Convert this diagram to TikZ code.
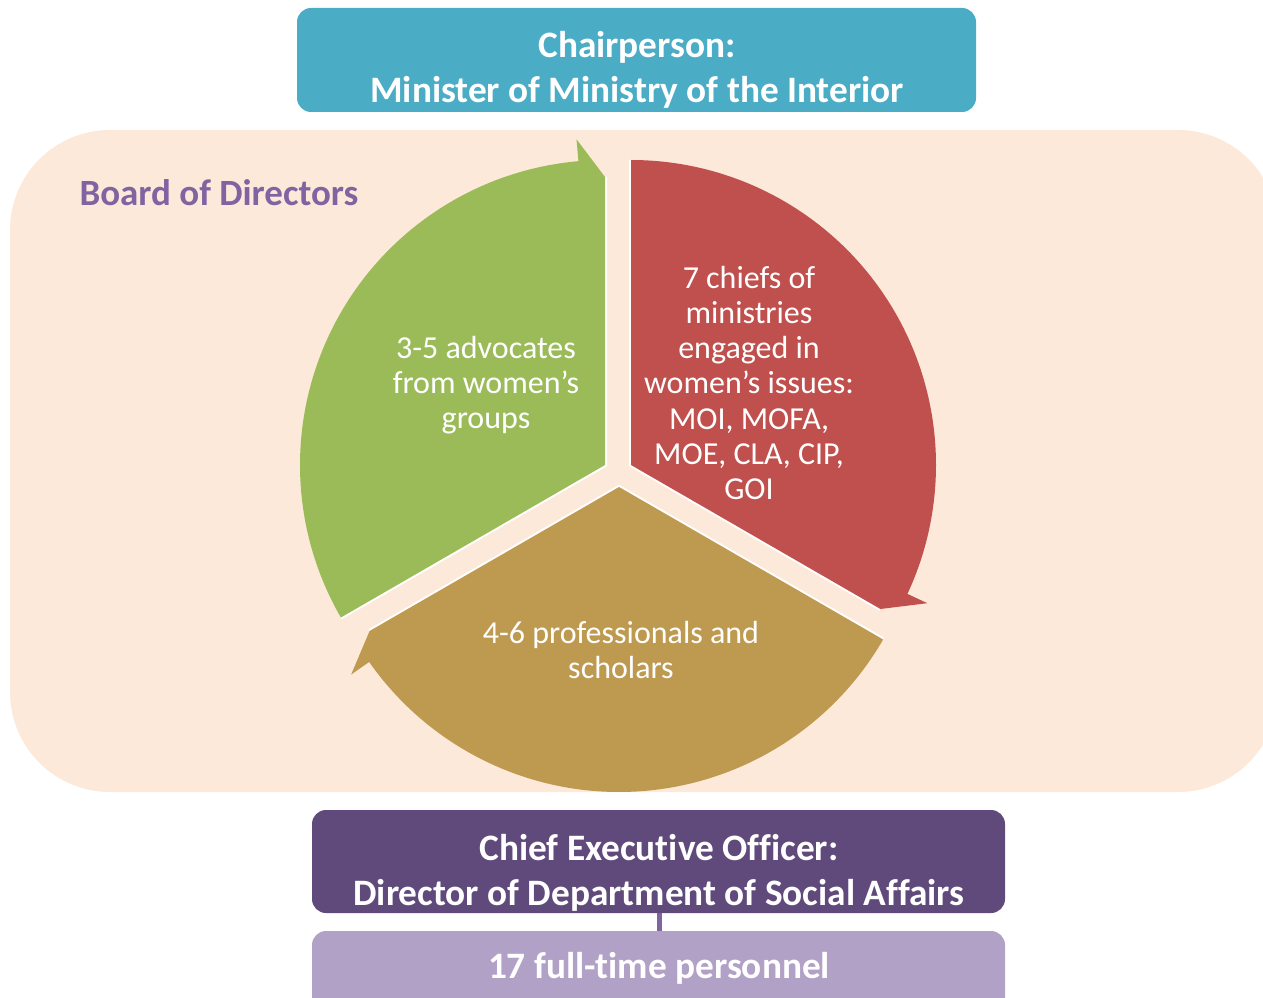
\documentclass[tikz,border=0pt]{standalone}
\usepackage{fontspec}
\setmainfont{Carlito}[Ligatures=NoCommon]
\usetikzlibrary{calc}
\definecolor{peach}{HTML}{FDE9D9}
\definecolor{teal}{HTML}{4BACC6}
\definecolor{segG}{HTML}{9BBB59}
\definecolor{segR}{HTML}{C0504D}
\definecolor{segY}{HTML}{BE9A50}
\definecolor{ceoC}{HTML}{604A7B}
\definecolor{persC}{HTML}{B2A1C7}
\definecolor{boardC}{HTML}{8064A2}
\tikzset{
  boxstyle/.style={rounded corners=14pt, inner sep=0pt},
  boldtext/.style={text=white, font=\fontsize{37.3}{45}\selectfont\bfseries, align=center},
  segtext/.style={text=white, font=\fontsize{32}{35.2}\selectfont, align=center},
  edgeline/.style={draw=white, line width=4pt},
}
\begin{document}
\begin{tikzpicture}[x=1pt,y=1pt]
\useasboundingbox (0,0) rectangle (1263,997);
\clip (0,0) rectangle (1263,997);
% board background
\fill[peach, rounded corners=100pt] (10,867) rectangle (1278,205);
\node[anchor=west, text=boardC, font=\fontsize{37}{44}\selectfont\bfseries] (board) at (76,804) {Board of Directors};
% chairperson
\node[boxstyle, fill=teal, minimum width=679pt, minimum height=104pt] (chair) at (636.5,937) {};
\node[boldtext] (chairtxt) at (637,927) {Chairperson:\\Minister of Ministry of the Interior};
% segment centres
\coordinate (G) at (605,532);
\coordinate (R) at (631,532);
\coordinate (Y) at (619,510);
% green
\draw[edgeline] ($(G)+(90:288pt)$) -- (G) -- ($(G)+(210:305pt)$);
\fill[segG] (G) -- ($(G)+(210:305pt)$) arc[start angle=210, end angle=95, radius=305pt]
  -- ($(G)+(95:327pt)$) -- ($(G)+(90:288pt)$) -- cycle;
% red
\draw[edgeline] ($(R)+(90:305pt)$) -- (R) -- ($(R)+(-30:288pt)$);
\fill[segR] (R) -- ($(R)+(90:305pt)$) arc[start angle=90, end angle=-25, radius=305pt]
  -- ($(R)+(-25:327pt)$) -- ($(R)+(-30:288pt)$) -- cycle;
% gold
\draw[edgeline] ($(Y)+(-30:305pt)$) -- (Y) -- ($(Y)+(-150:288pt)$);
\fill[segY] (Y) -- ($(Y)+(-30:305pt)$) arc[start angle=-30, end angle=-145, radius=305pt]
  -- ($(Y)+(-145:327pt)$) -- ($(Y)+(-150:288pt)$) -- cycle;
% segment texts
\node[segtext] (gtxt) at (486,612) {3-5 advocates\\from women’s\\groups};
\node[segtext] (rtxt) at (749,614) {7 chiefs of\\ministries\\engaged in\\women’s issues:\\MOI, MOFA,\\MOE, CLA, CIP,\\GOI};
\node[segtext] (ytxt) at (621,347) {4-6 professionals and\\scholars};
% CEO
\node[boxstyle, fill=ceoC, minimum width=693pt, minimum height=103pt] (ceo) at (658.5,135.5) {};
\node[boldtext] (ceotxt) at (659,124) {Chief Executive Officer:\\Director of Department of Social Affairs};
% personnel
\node[boxstyle, fill=persC, minimum width=693pt, minimum height=100pt] (pers) at (658.5,16) {};
\node[boldtext] (perstxt) at (659,29) {17 full-time personnel};
\draw[boardC, line width=5pt] (ceo.south -| 659,0) -- (pers.north -| 659,0);
\end{tikzpicture}
\end{document}
